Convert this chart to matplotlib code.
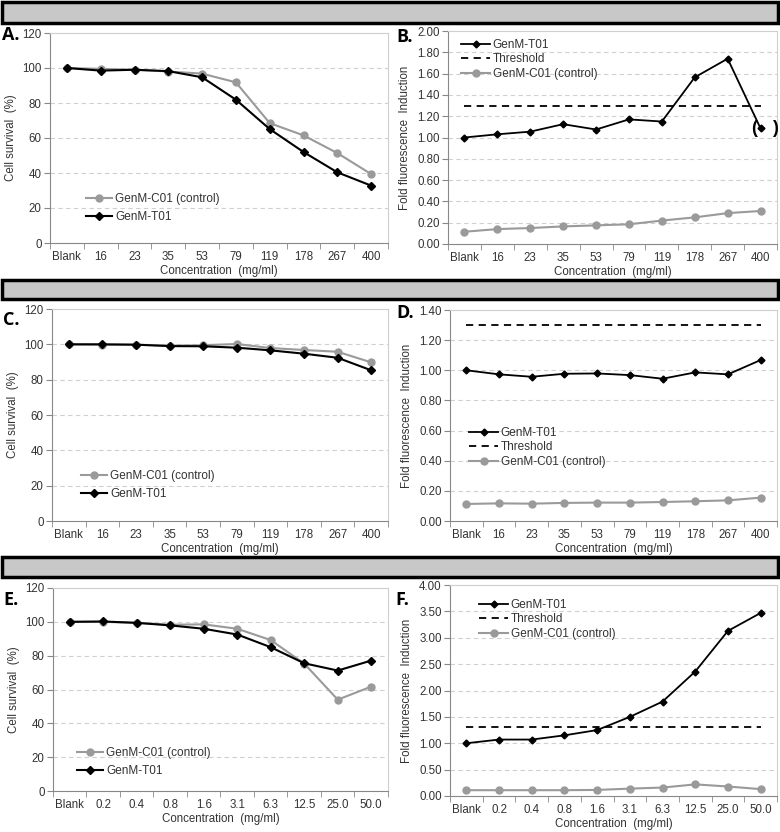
import numpy as np
import matplotlib.pyplot as plt
from matplotlib.patches import Rectangle

plt.rcParams['font.family'] = ['Liberation Sans', 'DejaVu Sans']

conc_ab = ['Blank', '16', '23', '35', '53', '79', '119', '178', '267', '400']
conc_ef = ['Blank', '0.2', '0.4', '0.8', '1.6', '3.1', '6.3', '12.5', '25.0', '50.0']

# survival (%)
surv_a_ctrl = [100, 99.5, 99, 98, 96.8, 91.8, 68.5, 61.5, 51.4, 39.4]
surv_a_t01 = [100, 98.5, 99, 98.2, 94.7, 81.9, 65.1, 52, 40.4, 32.8]
surv_c_ctrl = [100, 99.8, 99.8, 99.3, 99.5, 100.2, 97.9, 96.8, 95.8, 89.8]
surv_c_t01 = [100, 100, 99.8, 99, 98.9, 98.1, 96.6, 94.7, 92.4, 85.3]
surv_e_ctrl = [100, 100, 99.4, 98.3, 98.5, 95.9, 89.2, 75.3, 54, 61.7]
surv_e_t01 = [100, 100.2, 99.4, 97.9, 95.9, 92.5, 85, 75.5, 71.2, 77.1]

# fold fluorescence induction
fold_b_t01 = [1.0, 1.03, 1.055, 1.125, 1.075, 1.17, 1.15, 1.565, 1.74, 1.085]
fold_b_ctrl = [0.115, 0.14, 0.15, 0.165, 0.175, 0.185, 0.22, 0.25, 0.29, 0.31]
fold_d_t01 = [1.0, 0.973, 0.957, 0.977, 0.979, 0.968, 0.944, 0.986, 0.973, 1.068]
fold_d_ctrl = [0.113, 0.117, 0.115, 0.12, 0.122, 0.122, 0.126, 0.131, 0.137, 0.155]
fold_f_t01 = [1.0, 1.07, 1.07, 1.15, 1.25, 1.5, 1.79, 2.36, 3.13, 3.47]
fold_f_ctrl = [0.11, 0.11, 0.11, 0.11, 0.115, 0.14, 0.16, 0.22, 0.18, 0.13]
threshold = 1.30

W, H = 780, 832
fig = plt.figure(figsize=(W / 100, H / 100), dpi=100)


def px_axes(x0, y0, x1, y1):
    return fig.add_axes([x0 / W, 1 - y1 / H, (x1 - x0) / W, (y1 - y0) / H])


GRAY = '#9a9a9a'


def style(ax, cats, ymax, ystep, fmt, ylabel):
    n = len(cats)
    ax.set_xlim(-0.5, n - 0.5)
    ax.set_ylim(0, ymax)
    ax.set_xticks(range(n))
    ax.set_xticklabels(cats, fontsize=8.3, color='#333333')
    ax.set_xticks(np.arange(-0.5, n, 1.0), minor=True)
    ax.tick_params(axis='x', which='major', length=0, pad=6)
    ax.tick_params(axis='x', which='minor', length=4, color='#888888', direction='out')
    yt = np.arange(0, ymax + ystep / 2, ystep)
    ax.set_yticks(yt)
    ax.set_yticklabels([fmt % v for v in yt], fontsize=8.3, color='#333333')
    ax.tick_params(axis='y', length=4, color='#888888', pad=2)
    ax.yaxis.grid(True, linestyle=(0, (4, 3)), color='#d0d0d0', linewidth=0.8)
    ax.get_ygridlines()[-1].set_visible(False)
    ax.get_ygridlines()[0].set_visible(False)
    ax.set_axisbelow(True)
    for s in ['left', 'bottom']:
        ax.spines[s].set_color('#888888')
    for s in ['top', 'right']:
        ax.spines[s].set_color('#cfcfcf')
    ax.set_xlabel('Concentration  (mg/ml)', fontsize=8.3, color='#333333', labelpad=1)
    ax.set_ylabel(ylabel, fontsize=8.3, color='#333333', labelpad=4)


def survival(ax, cats, ctrl, t01, leg_xy):
    x = np.arange(len(cats))
    ax.plot(x, ctrl, color=GRAY, marker='o', markersize=5, lw=1.5, label='GenM-C01 (control)')
    ax.plot(x, t01, color='black', marker='D', markersize=4, lw=1.5, label='GenM-T01')
    style(ax, cats, 120, 20, '%d', 'Cell survival  (%)')
    ax.legend(loc='upper left', bbox_to_anchor=(leg_xy[0] / W, 1 - leg_xy[1] / H),
              bbox_transform=fig.transFigure, frameon=False, fontsize=8.5,
              handlelength=2.2, handletextpad=0.3, labelspacing=0.5, borderpad=0,
              labelcolor='#333333')


def fluor(ax, cats, t01, ctrl, ymax, ystep, leg_xy):
    x = np.arange(len(cats))
    ax.plot(x, t01, color='black', marker='D', markersize=3.5, lw=1.3, label='GenM-T01')
    ax.plot(x, [threshold] * len(cats), color='black', ls=(0, (4, 3)), lw=1.3, label='Threshold')
    ax.plot(x, ctrl, color=GRAY, marker='o', markersize=5, lw=1.5, label='GenM-C01 (control)')
    style(ax, cats, ymax, ystep, '%.2f', 'Fold fluorescence  Induction')
    ax.legend(loc='upper left', bbox_to_anchor=(leg_xy[0] / W, 1 - leg_xy[1] / H),
              bbox_transform=fig.transFigure, frameon=False, fontsize=8.5,
              handlelength=2.5, handletextpad=0.2, labelspacing=0.22, borderpad=0,
              labelcolor='#333333')


axA = px_axes(50, 33, 388, 243)
survival(axA, conc_ab, surv_a_ctrl, surv_a_t01, (80, 187))
axB = px_axes(448, 31, 777, 244)
fluor(axB, conc_ab, fold_b_t01, fold_b_ctrl, 2.0, 0.2, (455, 33))
axB.text(8.8, fold_b_t01[-1], '(', fontsize=13, fontweight='bold', ha='center', va='center')
axB.text(9.45, fold_b_t01[-1], ')', fontsize=13, fontweight='bold', ha='center', va='center')

axC = px_axes(52, 309, 388, 521)
survival(axC, conc_ab, surv_c_ctrl, surv_c_t01, (75, 464))
axD = px_axes(450, 310, 777, 521)
fluor(axD, conc_ab, fold_d_t01, fold_d_ctrl, 1.4, 0.2, (463, 421))

axE = px_axes(53, 588, 388, 791)
survival(axE, conc_ef, surv_e_ctrl, surv_e_t01, (71, 741))
axF = px_axes(450, 585, 777, 796)
fluor(axF, conc_ef, fold_f_t01, fold_f_ctrl, 4.0, 0.5, (473, 593))

# panel letters
for lbl, x, y in [('A.', 2, 35), ('B.', 396, 37), ('C.', 3, 320), ('D.', 396, 313),
                  ('E.', 3, 600), ('F.', 395, 600)]:
    fig.text(x / W, 1 - y / H, lbl, fontsize=13, fontweight='bold',
             family=['Open Sans', 'DejaVu Sans'], va='center', ha='left')

# grey header bars
for y0, y1 in [(2, 23), (280, 299), (557, 577)]:
    fig.patches.append(Rectangle((2 / W, 1 - y1 / H), 776 / W, (y1 - y0) / H,
                                 transform=fig.transFigure, facecolor='#c8c8c8',
                                 edgecolor='black', linewidth=2.5))

fig.savefig('out.png', dpi=100)
